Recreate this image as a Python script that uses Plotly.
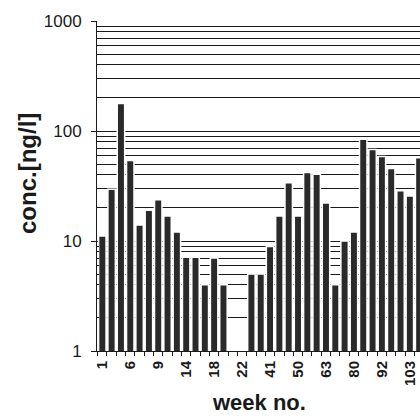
import plotly.graph_objects as go

# Concentration per sampled week (ng/l); None = not detected / no bar
conc = [11.1, 29.6, 178, 54, 14, 19, 23.7, 16.9, 12.1, 7.1, 7.1, 4, 7, 4,
        None, None, 5, 5, 8.9, 16.9, 33.8, 16.9, 42, 40.5, 22.1, 4, 10, 12.1,
        84, 68, 58.6, 45.6, 28.6, 25.7, 57]
# Week numbers shown on the axis (every third sample)
week_labels = ["1", "6", "9", "14", "18", "22", "41", "50", "63", "80", "92", "103"]

slots = list(range(len(conc)))
label_slots = slots[::3][:len(week_labels)]

minor_vals = [m * 10 ** d for d in range(3) for m in range(2, 10)]

font = "Liberation Sans, Arial, sans-serif"

fig = go.Figure(go.Bar(
    x=slots, y=conc, width=0.8,
    marker=dict(color="#2a2a2a", line=dict(color="white", width=1.5)),
))

fig.update_layout(
    width=420, height=419,
    margin=dict(l=97, r=0, t=21, b=68),
    paper_bgcolor="white", plot_bgcolor="white",
    showlegend=False,
    font=dict(family=font, color="#1a1a1a"),
    xaxis=dict(
        range=[-0.57, 34.09],
        tickmode="array", tickvals=label_slots, ticktext=week_labels,
        ticks="", tickangle=-90,
        tickfont=dict(size=15, family=font, weight="bold"),
        ticklabelstandoff=3,
        showgrid=False, zeroline=False,
        showline=True, linecolor="#1a1a1a", linewidth=1,
        minor=dict(tickmode="linear", tick0=-0.5, dtick=1, ticks="outside",
                   ticklen=4, tickcolor="#1a1a1a", showgrid=False),
    ),
    yaxis=dict(
        type="log", range=[0, 3],
        tickmode="array", tickvals=[1, 10, 100, 1000], ticktext=["1", "10", "100", "1000"],
        ticks="outside", ticklen=5, tickcolor="#1a1a1a",
        tickfont=dict(size=17, family=font, weight="normal"),
        ticklabelstandoff=6,
        showgrid=True, gridcolor="#1a1a1a", gridwidth=1,
        showline=True, linecolor="#1a1a1a", linewidth=1,
        zeroline=False,
        minor=dict(tickmode="array", tickvals=minor_vals, showgrid=True,
                   gridcolor="#1a1a1a", gridwidth=1, ticks="inside", ticklen=2,
                   tickcolor="#1a1a1a"),
    ),
    annotations=[
        dict(text="<b>conc.[ng/l]</b>", textangle=-90, xref="paper", yref="paper",
             x=-0.213, y=0.537, showarrow=False, xanchor="center", yanchor="middle",
             font=dict(size=24, family=font)),
        dict(text="<b>week no.</b>", xref="paper", yref="paper",
             x=0.5, y=-0.157, showarrow=False, xanchor="center", yanchor="middle",
             font=dict(size=22, family=font)),
    ],
)

fig.write_html("out.html")
